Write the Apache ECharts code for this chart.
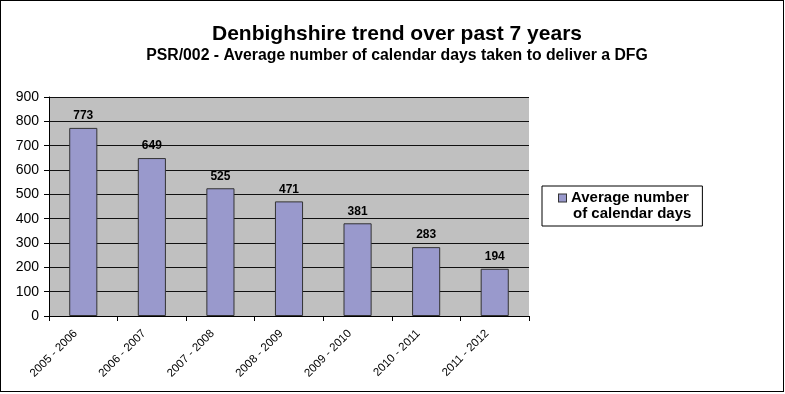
<!DOCTYPE html>
<html>
<head>
<meta charset="utf-8">
<script src="https://cdn.jsdelivr.net/npm/echarts@6/dist/echarts.min.js"></script>
<style>
  html, body { margin: 0; padding: 0; background: #fff; }
  #frame { position: absolute; left: 0; top: 0; width: 782px; height: 390px; border: 1px solid #000; box-sizing: content-box; }
  #chart { width: 785px; height: 394px; position: absolute; left: 0; top: 0; }
</style>
</head>
<body>
<div id="frame"></div>
<div id="chart"></div>
<script>
// Reporting years on the x axis
const periods = ['2005 - 2006', '2006 - 2007', '2007 - 2008', '2008 - 2009', '2009 - 2010', '2010 - 2011', '2011 - 2012'];
// PSR/002: average calendar days taken to deliver a DFG
const avgDays = [773, 649, 525, 471, 381, 283, 194];
const seriesName = 'Average number of calendar days';
const yTicks = { min: 0, max: 900, interval: 100 };

const font = '"Liberation Sans", Arial, sans-serif';
const barColor = '#9999cc';
const chart = echarts.init(document.getElementById('chart'), null, { renderer: 'canvas' });

chart.setOption({
  animation: false,
  backgroundColor: 'transparent',
  title: {
    text: 'Denbighshire trend over past 7 years',
    subtext: 'PSR/002 - Average number of calendar days taken to deliver a DFG',
    left: 392,
    textAlign: 'center',
    top: 19,
    itemGap: 3,
    textStyle: { fontFamily: font, fontSize: 21, fontWeight: 'bold', color: '#000' },
    subtextStyle: { fontFamily: font, fontSize: 15.8, fontWeight: 'bold', color: '#000' }
  },
  legend: {
    left: 542,
    top: 186,
    orient: 'vertical',
    backgroundColor: '#fff',
    borderColor: '#000',
    borderWidth: 1,
    padding: [4, 11, 4, 12],
    itemWidth: 0,
    itemHeight: 0,
    icon: 'none',
    selectedMode: false,
    // key swatch drawn inline so it sits beside the first line of the two-line label
    formatter: () => '{box|}{gap|}{t|Average number}\n{ind|}{t|of calendar days}',
    textStyle: {
      fontFamily: font, fontSize: 15, fontWeight: 'bold', color: '#000', lineHeight: 16,
      rich: {
        box: { width: 7, height: 7, backgroundColor: barColor, borderColor: '#333', borderWidth: 1 },
        gap: { width: 5 },
        ind: { width: 14 },
        t: { fontFamily: font, fontSize: 15, fontWeight: 'bold', color: '#000', lineHeight: 16 }
      }
    },
    data: [{ name: seriesName }]
  },
  grid: {
    left: 49,
    right: 256,
    top: 97,
    bottom: 78,
    show: true,
    backgroundColor: '#c0c0c0',
    borderWidth: 0
  },
  xAxis: {
    type: 'category',
    data: periods,
    boundaryGap: true,
    axisLine: { show: true, lineStyle: { color: '#000', width: 1 } },
    axisTick: { show: true, alignWithLabel: false, length: 5, lineStyle: { color: '#000' } },
    axisLabel: {
      rotate: 45, interval: 0, margin: 8,
      padding: [0, 11, 0, 0],
      fontFamily: font, fontSize: 11.5, color: '#000'
    }
  },
  yAxis: {
    type: 'value',
    min: yTicks.min,
    max: yTicks.max,
    interval: yTicks.interval,
    axisLine: { show: true, lineStyle: { color: '#000', width: 1 } },
    axisTick: { show: true, length: 5, lineStyle: { color: '#000' } },
    axisLabel: { fontFamily: font, fontSize: 14, color: '#000', margin: 10 },
    splitLine: { show: true, lineStyle: { color: '#111', width: 1 } }
  },
  series: [{
    name: seriesName,
    type: 'bar',
    data: avgDays,
    barWidth: '41%',
    itemStyle: { color: barColor, borderColor: '#333', borderWidth: 1 },
    label: {
      show: true,
      position: 'top',
      distance: 6,
      fontFamily: font,
      fontSize: 12,
      fontWeight: 'bold',
      color: '#000'
    }
  }]
});
</script>
</body>
</html>
